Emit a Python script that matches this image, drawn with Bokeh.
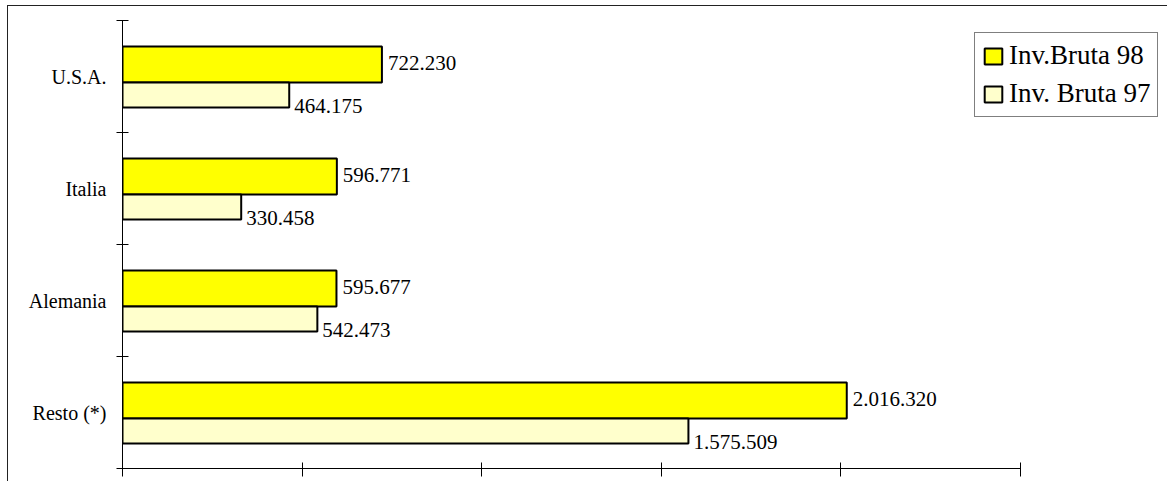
from bokeh.plotting import figure
from bokeh.models import (FixedTicker, Legend, LegendItem, ColumnDataSource,
                          LabelSet, Range1d, CustomJSTickFormatter)
from bokeh.embed import file_html
from bokeh.resources import INLINE

# ---- data ----
categories = ["U.S.A.", "Italia", "Alemania", "Resto (*)"]
inv_98 = [722230, 596771, 595677, 2016320]
inv_97 = [464175, 330458, 542473, 1575509]
labels_98 = ["722.230", "596.771", "595.677", "2.016.320"]
labels_97 = ["464.175", "330.458", "542.473", "1.575.509"]
series_names = ["Inv.Bruta 98", "Inv. Bruta 97"]
x_ticks = [0, 500000, 1000000, 1500000, 2000000, 2500000]

FONT = "Liberation Serif"
n = len(categories)
centers = [n - i - 0.5 for i in range(n)]
boundaries = [float(i) for i in range(n + 1)]

# layout (pixels)
W, H = 1160, 476
LEFT, RIGHT, TOP, BOTTOM = 114, 2, 14, 14
AXIS_PX = 898                      # pixel length of the 0 .. x_ticks[-1] axis
frame_w = W - LEFT - RIGHT
x_end = x_ticks[-1] * frame_w / AXIS_PX   # frame extends beyond axis for the legend

src98 = ColumnDataSource(dict(y=[c + 0.107 for c in centers], v=inv_98, lab=labels_98))
src97 = ColumnDataSource(dict(y=[c - 0.165 for c in centers], v=inv_97, lab=labels_97))

p = figure(width=W, height=H, output_backend="svg", toolbar_location=None,
           x_range=Range1d(0, x_end), y_range=Range1d(0, n),
           min_border_left=LEFT, min_border_right=RIGHT, min_border_top=TOP,
           min_border_bottom=BOTTOM,
           styles={"margin-top": "5px", "margin-left": "7px",
                   "border-top": "1px solid #222", "border-left": "1px solid #222"})
p.outline_line_color = None
p.xgrid.visible = False
p.ygrid.visible = False
p.background_fill_color = "white"
p.border_fill_color = "white"

r98 = p.hbar(y="y", left=0, right="v", height=0.321, source=src98,
             fill_color="#FFFF00", line_color="black", line_width=2)
r97 = p.hbar(y="y", left=0, right="v", height=0.223, source=src97,
             fill_color="#FFFFCC", line_color="black", line_width=2)

p.add_layout(LabelSet(x="v", y="y", text="lab", source=src98, x_offset=6, y_offset=2,
                      text_baseline="middle", text_font=FONT, text_font_size="21px",
                      text_color="black"))
p.add_layout(LabelSet(x="v", y="y", text="lab", source=src97, x_offset=5, y_offset=-11,
                      text_baseline="middle", text_font=FONT, text_font_size="21px",
                      text_color="black"))

# y axis: labels at centres, ticks at boundaries
ya = p.yaxis[0]
ya.ticker = FixedTicker(ticks=centers, minor_ticks=boundaries)
ya.major_label_overrides = {c: cat for c, cat in zip(centers, categories)}
ya.major_tick_in = 0
ya.major_tick_out = 0
ya.minor_tick_in = 6
ya.minor_tick_out = 6
ya.minor_tick_line_color = "black"
ya.axis_line_color = "black"
ya.major_label_standoff = 10
ya.major_label_text_font = FONT
ya.major_label_text_font_size = "20px"
ya.major_label_text_color = "black"

xa = p.xaxis[0]
xa.ticker = FixedTicker(ticks=x_ticks, minor_ticks=[])
xa.bounds = (x_ticks[0], x_ticks[-1])
xa.formatter = CustomJSTickFormatter(code="return ''")
xa.major_tick_in = 6
xa.major_tick_out = 8
xa.major_tick_line_color = "black"
xa.axis_line_color = "black"
xa.major_label_standoff = 0
xa.major_label_text_font_size = "1px"

legend = Legend(items=[LegendItem(label=series_names[0], renderers=[r98]),
                       LegendItem(label=series_names[1], renderers=[r97])],
                location=(852, 351), margin=0, padding=7, spacing=7,
                glyph_width=22, glyph_height=20, label_height=30, label_standoff=5,
                label_text_font=FONT, label_text_font_size="27px",
                label_text_color="black", border_line_color="black",
                border_line_width=1, background_fill_color="white",
                background_fill_alpha=1.0)
p.add_layout(legend)

open("out.html", "w").write(file_html(p, INLINE))
